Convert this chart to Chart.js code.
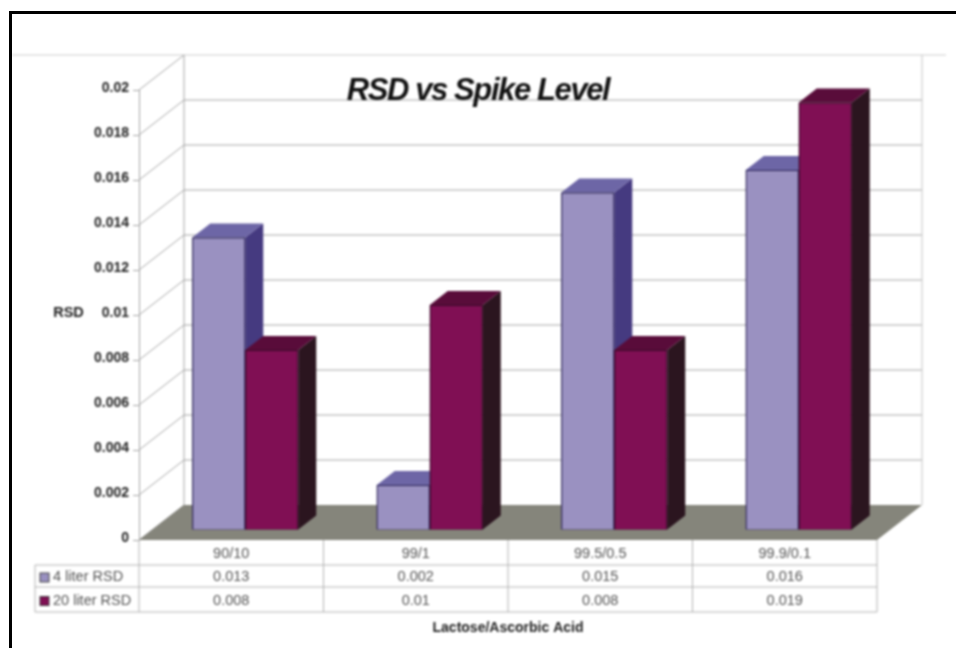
<!DOCTYPE html>
<html>
<head>
<meta charset="utf-8">
<style>
  html, body { margin: 0; padding: 0; background: #fff; overflow: hidden; }
  canvas { display: block; filter: blur(0.9px); }
  /* black photo frame stays sharp */
  #frame { position: absolute; left: 9px; top: 11px; right: 0; bottom: 0; border-top: 3px solid #000; border-left: 3px solid #000; }
</style>
<script src="https://cdn.jsdelivr.net/npm/chart.js@4"></script>
</head>
<body>
<canvas id="chart" width="956" height="648"></canvas>
<div id="frame"></div>
<script>
const categories = ["90/10", "99/1", "99.5/0.5", "99.9/0.1"];
const rsd4 = [0.013, 0.002, 0.015, 0.016];
const rsd20 = [0.008, 0.01, 0.008, 0.019];
const seriesNames = ["4 liter RSD", "20 liter RSD"];
const chartTitle = "RSD vs Spike Level";

const font = "'Liberation Sans', Arial, sans-serif";
const gridColor = "#a6a6a6";
const tableColor = "#b4b4b4";

// front face, side and top of each series
const faces = [
    { front: "#9a91c1", side: "#453a80", top: "#6d66a6", edge: "#2e2658" },
    { front: "#800f54", side: "#2b151f", top: "#590c3a", edge: "#3a0a28" }
];

// depth of the floor and of the bars
const wallDx = 45, wallDy = 35;
const barShiftX = 14, barShiftY = -10;
const barDx = 18, barDy = 14;

function line(ctx, x1, y1, x2, y2) {
    ctx.beginPath();
    ctx.moveTo(x1, y1);
    ctx.lineTo(x2, y2);
    ctx.stroke();
}

function poly(ctx, pts, fill) {
    ctx.fillStyle = fill;
    ctx.beginPath();
    pts.forEach((p, i) => i ? ctx.lineTo(p[0], p[1]) : ctx.moveTo(p[0], p[1]));
    ctx.closePath();
    ctx.fill();
}

// walls, floor, data table and flat labels
const walls = {
    id: "walls",
    beforeDatasetsDraw(chart) {
        const { ctx, chartArea: { left, right, top, bottom }, scales: { x, y } } = chart;
        ctx.save();

        ctx.strokeStyle = "#e6e6e6";
        ctx.lineWidth = 2;
        line(ctx, 12, top - wallDy, 946, top - wallDy);
        ctx.lineWidth = 1;

        ctx.strokeStyle = gridColor;
        y.ticks.forEach(t => {
            const py = y.getPixelForValue(t.value);
            line(ctx, left, py, left + wallDx, py - wallDy);
            if (py > top && py < bottom) line(ctx, left + wallDx, py - wallDy, right + wallDx, py - wallDy);
        });
        line(ctx, left + wallDx, top - wallDy, left + wallDx, bottom - wallDy);
        ctx.strokeStyle = "#c4c4c4";
        line(ctx, right + wallDx, top - wallDy, right + wallDx, bottom - wallDy);

        poly(ctx, [[left, bottom], [right, bottom], [right + wallDx, bottom - wallDy], [left + wallDx, bottom - wallDy]], "#85857b");

        // data table
        const rows = [565, 587, 612];
        ctx.strokeStyle = tableColor;
        rows.forEach(r => line(ctx, 35, r, right, r));
        line(ctx, 35, rows[0], 35, rows[2]);
        const step = x.getPixelForValue(1) - x.getPixelForValue(0);
        categories.forEach((c, i) => line(ctx, x.getPixelForValue(i) - step / 2, bottom, x.getPixelForValue(i) - step / 2, rows[2]));
        line(ctx, right, bottom, right, rows[2]);

        ctx.textBaseline = "middle";
        [rsd4, rsd20].forEach((vals, s) => {
            const cy = (rows[s] + rows[s + 1]) / 2 + 1;
            ctx.font = "14.5px " + font;
            ctx.fillStyle = "#555";
            ctx.textAlign = "center";
            vals.forEach((v, i) => ctx.fillText(String(v), x.getPixelForValue(i), cy));
            ctx.textAlign = "left";
            ctx.fillText(seriesNames[s], 53, cy);
            ctx.fillStyle = faces[s].front;
            ctx.fillRect(40, cy - 4, 9, 9);
            ctx.strokeStyle = "#444";
            ctx.strokeRect(40, cy - 4, 9, 9);
            ctx.strokeStyle = tableColor;
        });

        // y label sits flat in the original
        ctx.font = "bold 14.5px " + font;
        ctx.fillStyle = "#222";
        ctx.textAlign = "center";
        ctx.fillText("RSD", 68.5, 313);

        // title is squeezed tighter than the native one can be
        ctx.font = "italic bold 31px " + font;
        ctx.fillStyle = "#111";
        ctx.letterSpacing = "-1.4px";
        ctx.textBaseline = "alphabetic";
        ctx.fillText(chartTitle, 478, 100);
        ctx.restore();
    }
};

// bars go one series at a time so the wine bars cover the lilac sides
const blocks = {
    id: "blocks",
    beforeDatasetsDraw(chart) {
        const { ctx } = chart;
        ctx.save();
        ctx.translate(barShiftX, barShiftY);
        chart.data.datasets.forEach((d, n) => {
            const c = faces[n];
            chart.getDatasetMeta(n).data.forEach(b => {
                const l = b.x - b.width / 2, r = b.x + b.width / 2;
                poly(ctx, [[r, b.y], [r + barDx, b.y - barDy], [r + barDx, b.base - barDy], [r, b.base]], c.side);
                poly(ctx, [[l, b.y], [l + barDx, b.y - barDy], [r + barDx, b.y - barDy], [r, b.y]], c.top);
                poly(ctx, [[l, b.y], [r, b.y], [r, b.base], [l, b.base]], c.edge);
                b.draw(ctx);
            });
        });
        ctx.restore();
    },
    beforeDatasetDraw() {
        return false;
    }
};

new Chart(document.getElementById("chart"), {
    type: "bar",
    data: {
        labels: categories,
        datasets: [
            { label: seriesNames[0], data: rsd4, backgroundColor: faces[0].front, borderColor: faces[0].edge, borderWidth: 1 },
            { label: seriesNames[1], data: rsd20, backgroundColor: faces[1].front, borderColor: faces[1].edge, borderWidth: 1 }
        ]
    },
    options: {
        responsive: false,
        animation: false,
        layout: { padding: { left: 0, right: 79, top: 90, bottom: 0 } },
        datasets: { bar: { categoryPercentage: 0.5745, barPercentage: 1 } },
        plugins: {
            legend: { display: false },
            tooltip: { enabled: false }
        },
        scales: {
            x: {
                afterFit(s) { s.height = 108; },
                grid: { display: false, drawTicks: false },
                border: { display: false },
                ticks: { color: "#555", padding: 5, maxRotation: 0, font: { family: font, size: 14.5 } },
                title: {
                    display: true,
                    text: "Lactose/Ascorbic Acid",
                    color: "#222",
                    font: { family: font, size: 14, weight: "bold" },
                    padding: { top: 0, bottom: 11 }
                }
            },
            y: {
                min: 0,
                max: 0.02,
                afterFit(s) { s.width = 139; },
                border: { color: gridColor },
                grid: { drawOnChartArea: false, color: gridColor, tickLength: 6 },
                ticks: {
                    stepSize: 0.002,
                    color: "#222",
                    padding: 4,
                    labelOffset: -2,
                    font: { family: font, size: 14, weight: "bold" },
                    callback: v => String(+v.toFixed(3))
                }
            }
        }
    },
    plugins: [walls, blocks]
});
</script>
</body>
</html>
